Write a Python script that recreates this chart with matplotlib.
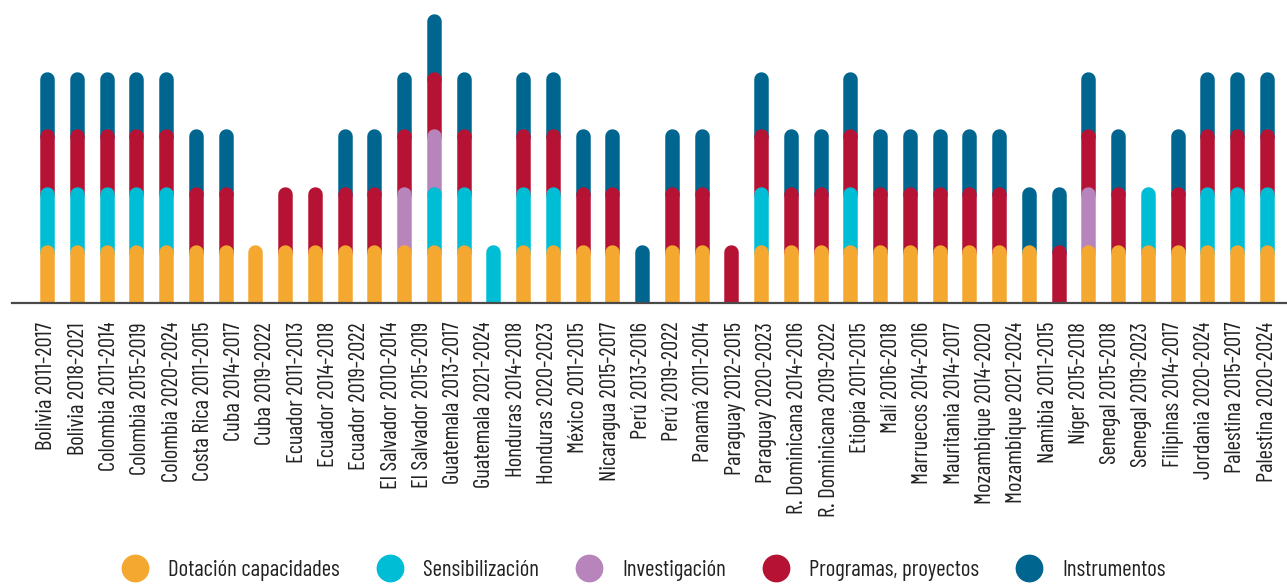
import matplotlib.pyplot as plt
from matplotlib.lines import Line2D
import numpy as np

# tick labels as printed (the original has 40 labels under 42 bars)
labels = ["Bolivia 2011-2017", "Bolivia 2018-2021", "Colombia 2011-2014", "Colombia 2015-2019",
          "Colombia 2020-2024", "Costa Rica 2011-2015", "Cuba 2014-2017", "Cuba 2019-2022",
          "Ecuador 2011-2013", "Ecuador 2014-2018", "Ecuador 2019-2022", "El Salvador 2010-2014",
          "El Salvador 2015-2019", "Guatemala 2013-2017", "Guatemala 2021-2024", "Honduras 2014-2018",
          "Honduras 2020-2023", "México 2011-2015", "Nicaragua 2015-2017", "Perú 2013-2016",
          "Perú 2019-2022", "Panamá 2011-2014", "Paraguay 2012-2015", "Paraguay 2020-2023",
          "R. Dominicana 2014-2016", "R. Dominicana 2019-2022", "Etiopía 2011-2015", "Malí 2016-2018",
          "Marruecos 2014-2016", "Mauritania 2014-2017", "Mozambique 2014-2020", "Mozambique 2021-2024",
          "Namibia 2011-2015", "Níger 2015-2018", "Senegal 2015-2018", "Senegal 2019-2023",
          "Filipinas 2014-2017", "Jordania 2020-2024", "Palestina 2015-2017", "Palestina 2020-2024"]

names = ["Dotación capacidades", "Sensibilización", "Investigación", "Programas, proyectos", "Instrumentos"]
colors = ["#F5A82F", "#00BDD6", "#B785BB", "#B61234", "#00668F"]

dotacion = [1, 1, 1, 1, 1, 1, 1, 1, 1, 1, 1, 1, 1, 1, 1, 0, 1, 1, 1, 1, 0,
            1, 1, 0, 1, 1, 1, 1, 1, 1, 1, 1, 1, 1, 0, 1, 1, 1, 1, 1, 1, 1]
sensib = [1, 1, 1, 1, 1, 0, 0, 0, 0, 0, 0, 0, 0, 1, 1, 1, 1, 1, 0, 0, 0,
          0, 0, 0, 1, 0, 0, 1, 0, 0, 0, 0, 0, 0, 0, 0, 0, 1, 0, 1, 1, 1]
investig = [0, 0, 0, 0, 0, 0, 0, 0, 0, 0, 0, 0, 1, 1, 0, 0, 0, 0, 0, 0, 0,
            0, 0, 0, 0, 0, 0, 0, 0, 0, 0, 0, 0, 0, 0, 1, 0, 0, 0, 0, 0, 0]
programas = [1, 1, 1, 1, 1, 1, 1, 0, 1, 1, 1, 1, 1, 1, 1, 0, 1, 1, 1, 1, 0,
             1, 1, 1, 1, 1, 1, 1, 1, 1, 1, 1, 1, 0, 1, 1, 1, 0, 1, 1, 1, 1]
instrum = [1, 1, 1, 1, 1, 1, 1, 0, 0, 0, 1, 1, 1, 1, 1, 0, 1, 1, 1, 1, 1,
           1, 1, 0, 1, 1, 1, 1, 1, 1, 1, 1, 1, 1, 1, 1, 1, 0, 1, 1, 1, 1]
series = [dotacion, sensib, investig, programas, instrum]

plt.rcParams['font.family'] = ['Barlow Condensed', 'Barlow Semi Condensed',
                               'IBM Plex Sans Condensed', 'DejaVu Sans']

W, H = 1287, 585
fig = plt.figure(figsize=(W / 100, H / 100), dpi=100)

base_px, unit_px, ymax = 302.5, 57.8, 5.2
left_px, first_px, last_px = 12, 47, 1267
n = len(dotacion)
step_px = (last_px - first_px) / (n - 1)

ax = fig.add_axes([left_px / W, (H - base_px) / H, (W - left_px) / W, ymax * unit_px / H])
ax.set_xlim(-(first_px - left_px) / step_px, n - 1 + (W - last_px) / step_px)
ax.set_ylim(0, ymax)

bar_px = 14.5
lw = bar_px * 72 / 100
r = bar_px / 2 / unit_px  # cap radius in data units

x = np.arange(n)
bottom = np.zeros(n)
for k, (vals, col) in enumerate(zip(series, colors)):
    vals = np.array(vals, dtype=float)
    for xi, b, v in zip(x, bottom, vals):
        if v > 0:
            # rounded pill, lower segments drawn over upper ones
            ax.plot([xi, xi], [b - r, b + v - r], color=col, lw=lw,
                    solid_capstyle='round', zorder=10 - k)
    bottom += vals

for s in ['top', 'right', 'left']:
    ax.spines[s].set_visible(False)
ax.spines['bottom'].set_color('#4a4a4a')
ax.spines['bottom'].set_linewidth(1.6)
ax.spines['bottom'].set_zorder(20)
ax.set_yticks([])
ax.set_xticks(np.linspace(0, n - 1, len(labels)), labels, rotation=90,
              fontsize=16.5, color='#222222')
ax.tick_params(axis='x', length=0, pad=14)

handles = [Line2D([], [], marker='o', ls='', ms=19, color=c) for c in colors]
fig.legend(handles, names, loc='center', bbox_to_anchor=(0.5008, 1 - 570 / 585), ncol=5,
           frameon=False, fontsize=16.5, handlelength=1.0, handletextpad=0.97,
           columnspacing=1.66, labelcolor='#222222')

plt.savefig('out.png', dpi=100)
